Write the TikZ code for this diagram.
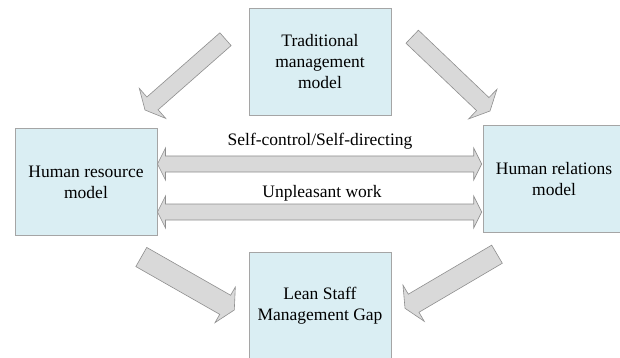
\documentclass[tikz,border=0pt]{standalone}
\usepackage{fontspec}
\setmainfont{Liberation Serif}
\usetikzlibrary{calc}
\definecolor{boxfill}{HTML}{DAEEF3}
\definecolor{boxline}{HTML}{A5A5A5}
\definecolor{arrfill}{HTML}{D9D9D9}
\definecolor{arrline}{HTML}{8F8F8F}
\tikzset{
  modelbox/.style={draw=boxline, fill=boxfill, line width=0.8pt,
    minimum width=142pt, minimum height=106.5pt, align=center, inner sep=0pt,
    font=\fontsize{17.5}{21}\selectfont},
  lbl/.style={font=\fontsize{17.5}{21}\selectfont, inner sep=0pt},
  barrow/.style={draw=arrline, fill=arrfill, line width=0.6pt, line join=miter},
}
% #1 tail, #2 tip, #3 half shaft, #4 half head, #5 head length
\newcommand\blkarrow[5]{%
  \draw[barrow] ($(#1)!#3!90:(#2)$) -- ($(#2)!#5!(#1)!#3!-90:(#1)$)
    -- ($(#2)!#5!(#1)!#4!-90:(#1)$) -- (#2)
    -- ($(#2)!#5!(#1)!#4!90:(#1)$) -- ($(#2)!#5!(#1)!#3!90:(#1)$)
    -- ($(#1)!#3!-90:(#2)$) -- cycle;}
% #1 left tip, #2 right tip, #3 half shaft, #4 half head, #5 head length
\newcommand\dblarrow[5]{%
  \draw[barrow] (#1) -- ($(#1)!#5!(#2)!#4!90:(#2)$) -- ($(#1)!#5!(#2)!#3!90:(#2)$)
    -- ($(#2)!#5!(#1)!#3!-90:(#1)$) -- ($(#2)!#5!(#1)!#4!-90:(#1)$) -- (#2)
    -- ($(#2)!#5!(#1)!#4!90:(#1)$) -- ($(#2)!#5!(#1)!#3!90:(#1)$)
    -- ($(#1)!#5!(#2)!#3!-90:(#2)$) -- ($(#1)!#5!(#2)!#4!-90:(#2)$) -- cycle;}
\begin{document}
\begin{tikzpicture}[x=1pt,y=-1pt]
\useasboundingbox (0,0) rectangle (620,358);
\clip (0,0) rectangle (620,358);
\fill[white] (0,0) rectangle (620,358);
% boxes
\node[modelbox] (trad) at (320,61.7) {Traditional\\management\\model};
\node[modelbox] (hres) at (86,182) {Human resource\\model};
\node[modelbox] (hrel) at (554,179) {Human relations\\model};
\node[modelbox] (lean) at (320,306) {Lean Staff\\Management Gap};
% labels
\node[lbl] (l1) at (320,141.7) {Self-control/Self-directing};
\node[lbl] (l2) at (322,193) {Unpleasant work};
% arrow end points
\coordinate (tlT) at (225.5,39.2); \coordinate (tlP) at (145,110);
\coordinate (trT) at (412.2,36.7); \coordinate (trP) at (490,111);
\coordinate (blT) at (141.3,257);  \coordinate (blP) at (234.3,310);
\coordinate (brT) at (497,254.2);  \coordinate (brP) at (405,308.3);
\coordinate (u1) at (157.5,164); \coordinate (u2) at (481.7,164);
\coordinate (d1) at (157.5,212); \coordinate (d2) at (481.7,212);
% arrows
\blkarrow{tlT}{tlP}{8.5pt}{20pt}{10pt}
\blkarrow{trT}{trP}{9pt}{20.5pt}{10pt}
\blkarrow{blT}{blP}{11pt}{20.5pt}{10.5pt}
\blkarrow{brT}{brP}{10.5pt}{21pt}{10pt}
\dblarrow{u1}{u2}{8pt}{16pt}{8pt}
\dblarrow{d1}{d2}{8pt}{16pt}{8pt}
\end{tikzpicture}
\end{document}
